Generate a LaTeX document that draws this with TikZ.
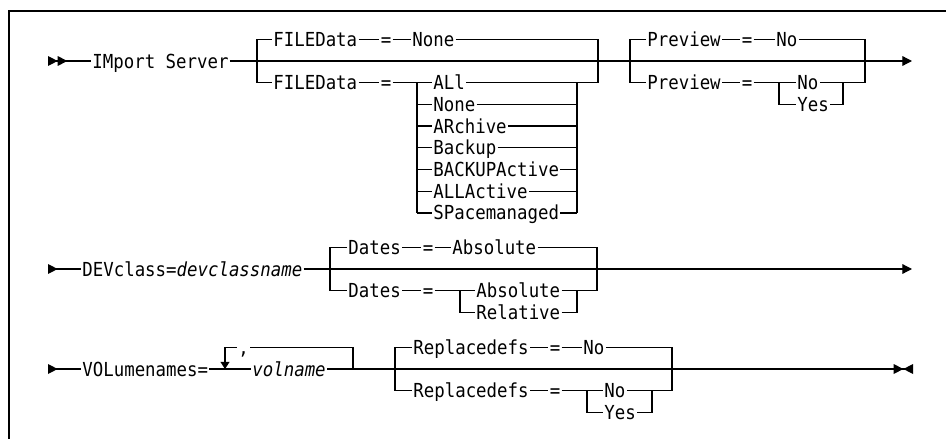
\documentclass[tikz,border=0pt]{standalone}
\usepackage{fontspec}
\setmonofont[FakeStretch=0.9]{DejaVu Sans Mono}
\usetikzlibrary{arrows.meta}

\begin{document}
\begin{tikzpicture}[
  x=0.02cm, y=-0.02cm,
  font=\ttfamily\fontsize{11}{13}\selectfont,
  kw/.style={inner xsep=0.6pt, inner ysep=0pt, text height=10pt,
    text depth=2pt, anchor=west},
  eqs/.style={inner xsep=0.6pt, inner ysep=0pt, text height=10pt,
    text depth=2pt, anchor=center},
  rail/.style={line width=0.7pt},
  frame/.style={line width=0.8pt}
]
\useasboundingbox (0,0) rectangle (946,439);
\draw[frame] (9,439) -- (9,11) -- (946,11);

% row 1: IMport Server
\coordinate (s1) at (48,61);
\coordinate (e1) at (912,61);
\node[kw] (imp) at (91,61) {IMport Server};

\coordinate (fa) at (257,39.3);
\coordinate (fb) at (257,82.7);
\coordinate (fc) at (598,39.3);
\coordinate (fd) at (598,82.7);
\coordinate (fl) at (417,82.7);
\coordinate (fr) at (577,82.7);
\node[kw] (fd1) at (272,39.3) {FILEData};
\node[eqs] (eq1) at (386,39.3) {=};
\node[kw] (none1) at (411,39.3) {None};
\node[kw] (fd2) at (272,82.7) {FILEData};
\node[eqs] (eq2) at (386,82.7) {=};
\foreach \t [count=\i from 0] in {ALl,None,ARchive,Backup,BACKUPActive,ALLActive,SPacemanaged}
  \node[kw] (fo\i) at (432,82.7+21.7*\i) {\t};

\coordinate (pa) at (630,39.3);
\coordinate (pb) at (630,82.7);
\coordinate (pc) at (865,39.3);
\coordinate (pd) at (865,82.7);
\coordinate (pl) at (779,82.7);
\coordinate (pr) at (843,82.7);
\node[kw] (pv1) at (646,39.3) {Preview};
\node[eqs] (eq3) at (747,39.3) {=};
\node[kw] (no1) at (775,39.3) {No};
\node[kw] (pv2) at (646,82.7) {Preview};
\node[eqs] (eq4) at (747,82.7) {=};
\node[kw] (no2) at (796,82.7) {No};
\node[kw] (yes1) at (796,104.4) {Yes};

% row 2: DEVclass
\coordinate (s2) at (48,269);
\coordinate (e2) at (912,269);
\node[kw] (dev) at (81,269) {DEVclass=\textit{devclassname}};

\coordinate (ta) at (330,247.3);
\coordinate (tb) at (330,290.7);
\coordinate (tc) at (597,247.3);
\coordinate (td) at (597,290.7);
\coordinate (tl) at (460,290.7);
\coordinate (tr) at (577,290.7);
\node[kw] (dt1) at (347,247.3) {Dates};
\node[eqs] (eq5) at (428,247.3) {=};
\node[kw] (abs1) at (451,247.3) {Absolute};
\node[kw] (dt2) at (347,290.7) {Dates};
\node[eqs] (eq6) at (428,290.7) {=};
\node[kw] (abs2) at (475,290.7) {Absolute};
\node[kw] (rel) at (475,312.4) {Relative};

% row 3: VOLumenames
\coordinate (s3) at (48,369);
\coordinate (e3) at (913,369);
\node[kw] (vol) at (81,369) {VOLumenames=};
\node[kw] (vname) at (251,369) {\textit{volname}};
\coordinate (la) at (225,369);
\coordinate (lb) at (225,347.3);
\coordinate (lc) at (353,347.3);
\coordinate (ld) at (353,369);
\node[kw, anchor=base] (sep) at (243.5,354) {,};

\coordinate (ra) at (395,347.3);
\coordinate (rb) at (395,390.7);
\coordinate (rc) at (672,347.3);
\coordinate (rd) at (672,390.7);
\coordinate (rl) at (587,390.7);
\coordinate (rr) at (652,390.7);
\node[kw] (rp1) at (412,347.3) {Replacedefs};
\node[eqs] (eq7) at (555,347.3) {=};
\node[kw] (no3) at (582,347.3) {No};
\node[kw] (rp2) at (412,390.7) {Replacedefs};
\node[eqs] (eq8) at (555,390.7) {=};
\node[kw] (no4) at (603,390.7) {No};
\node[kw] (yes2) at (603,412.4) {Yes};

% main lines
\draw[rail, {Triangle[reversed,length=5.5pt,width=5.5pt] Triangle[reversed,length=5.5pt,width=5.5pt]}-] (s1) -- (imp.west);
\draw[rail, -{Triangle[length=5.5pt,width=5.5pt]}] (imp.east) -- (e1);
\draw[rail, {Triangle[reversed,length=5.5pt,width=5.5pt]}-] (s2) -- (dev.west);
\draw[rail, -{Triangle[length=5.5pt,width=5.5pt]}] (dev.east) -- (e2);
\draw[rail, {Triangle[reversed,length=5.5pt,width=5.5pt]}-] (s3) -- (vol.west);
\draw[rail] (vol.east) -- (vname.west);
\draw[rail, -{Triangle[length=5.5pt,width=5.5pt] Triangle[reversed,length=5.5pt,width=5.5pt]}] (vname.east) -- (e3);

% FILEData
\draw[rail] (fd1.west) -- (fa) -- (fb) -- (fd2.west);
\draw[rail] (fd1.east) -- (eq1.west) (eq1.east) -- (none1.west)
  (none1.east) -- (fc) -- (fd) -- (fr);
\draw[rail] (fd2.east) -- (eq2.west) (eq2.east) -- (fo0.west);
\draw[rail] (fl) -- (fl |- fo6.west) (fr) -- (fr |- fo6.east);
\foreach \i in {0,...,6}
  \draw[rail] (fl |- fo\i.west) -- (fo\i.west) (fo\i.east) -- (fr |- fo\i.east);

% Preview
\draw[rail] (pv1.west) -- (pa) -- (pb) -- (pv2.west);
\draw[rail] (pv1.east) -- (eq3.west) (eq3.east) -- (no1.west)
  (no1.east) -- (pc) -- (pd) -- (pr);
\draw[rail] (pv2.east) -- (eq4.west) (eq4.east) -- (no2.west) (no2.east) -- (pr);
\draw[rail] (pl) |- (yes1.west) (yes1.east) -| (pr);

% Dates
\draw[rail] (dt1.west) -- (ta) -- (tb) -- (dt2.west);
\draw[rail] (dt1.east) -- (eq5.west) (eq5.east) -- (abs1.west)
  (abs1.east) -- (tc) -- (td) -- (tr);
\draw[rail] (dt2.east) -- (eq6.west) (eq6.east) -- (abs2.west) (abs2.east) -- (tr);
\draw[rail] (tl) |- (rel.west) (rel.east) -| (tr);

% volname repeat
\draw[rail, -{Triangle[length=4pt,width=5pt]}] (ld) -- (lc) -- (sep.east |- lc)
  (sep.west |- lb) -- (lb) -- (la);

% Replacedefs
\draw[rail] (rp1.west) -- (ra) -- (rb) -- (rp2.west);
\draw[rail] (rp1.east) -- (eq7.west) (eq7.east) -- (no3.west)
  (no3.east) -- (rc) -- (rd) -- (rr);
\draw[rail] (rp2.east) -- (eq8.west) (eq8.east) -- (no4.west) (no4.east) -- (rr);
\draw[rail] (rl) |- (yes2.west) (yes2.east) -| (rr);
\end{tikzpicture}
\end{document}
